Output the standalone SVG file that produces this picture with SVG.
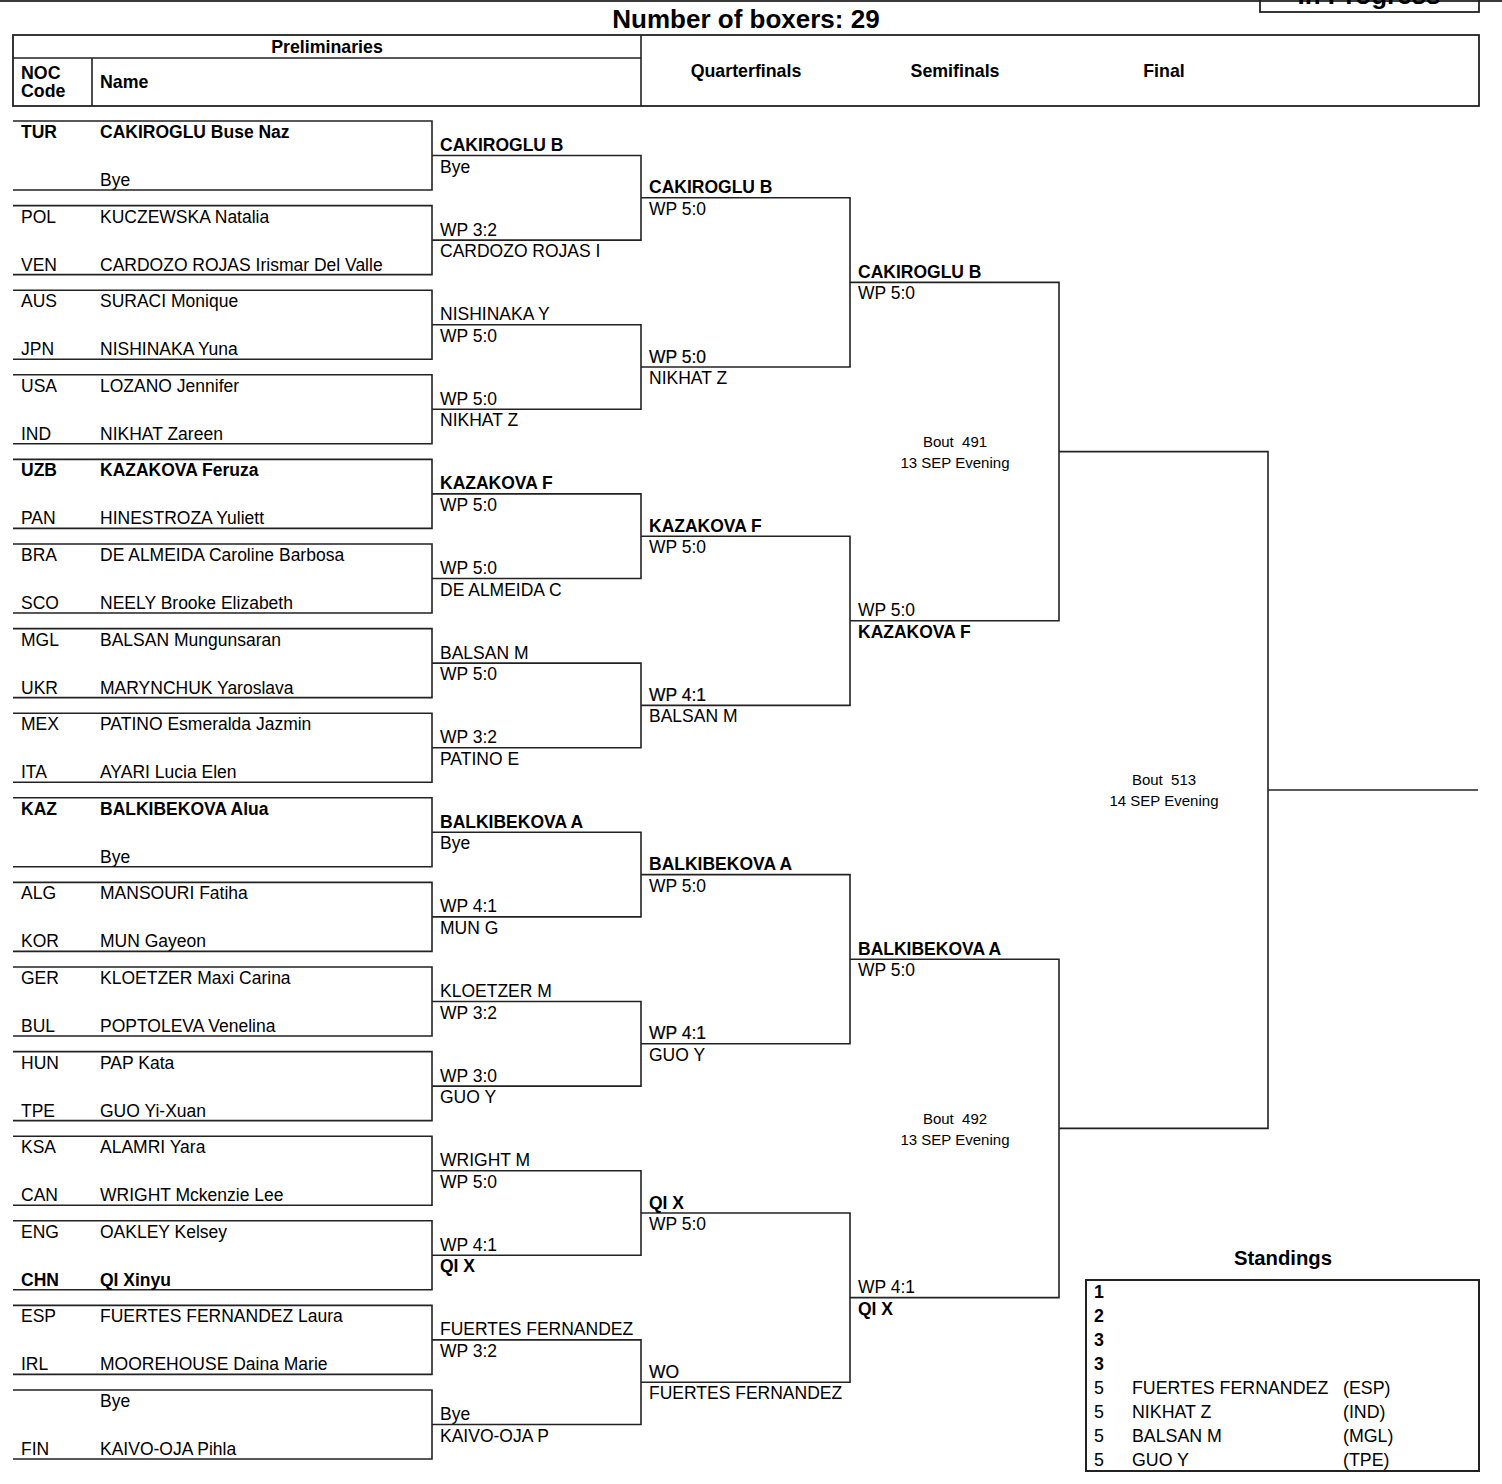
<svg xmlns="http://www.w3.org/2000/svg" width="1502" height="1484" viewBox="0 0 1502 1484">
<style>
.t{font-family:"Liberation Sans",Arial,sans-serif;font-size:17.5px;fill:#000}
.b{font-weight:bold}
.s{stroke:#000;stroke-width:0.2px}
.h{font-family:"Liberation Sans",Arial,sans-serif;font-size:17.8px;font-weight:bold;fill:#000}
.bout{font-family:"Liberation Sans",Arial,sans-serif;font-size:15px;fill:#000;text-anchor:middle;white-space:pre}
.st{font-family:"Liberation Sans",Arial,sans-serif;font-size:17.8px;fill:#000}
.ln{fill:none;stroke:#222;stroke-width:1.6}
.box{fill:none;stroke:#222;stroke-width:1.8}
.mid{text-anchor:middle}
</style>
<rect x="0" y="0" width="1502" height="1484" fill="#fff"/>
<rect x="0" y="0" width="1502" height="2" fill="#3a3a3a"/>
<g id="status">
<rect class="box" x="1260" y="-10" width="219" height="22"/>
<text class="h mid" x="1369" y="4" style="font-size:26px">In Progress</text>
</g>
<g id="title"><text class="h mid" x="746" y="28" style="font-size:26px">Number of boxers: 29</text></g>
<g id="header">
<rect class="box" x="13" y="35" width="1466" height="71"/>
<path class="ln" d="M641,35V106M13,58H641M92,58V106"/>
<text class="h mid" x="327" y="53">Preliminaries</text>
<text class="h" x="21" y="79">NOC</text>
<text class="h" x="21" y="97">Code</text>
<text class="h" x="100" y="88">Name</text>
<text class="h mid" x="746" y="77">Quarterfinals</text>
<text class="h mid" x="955" y="77">Semifinals</text>
<text class="h mid" x="1164" y="77">Final</text>
</g>
<g id="connectors" class="ln">
<path d="M13,121H432V190H13M13,205.6H432V274.6H13M13,290.2H432V359.2H13M13,374.8H432V443.8H13M13,459.4H432V528.4H13M13,544H432V613H13M13,628.6H432V697.6H13M13,713.2H432V782.2H13M13,797.8H432V866.8H13M13,882.4H432V951.4H13M13,967H432V1036H13M13,1051.6H432V1120.6H13M13,1136.2H432V1205.2H13M13,1220.8H432V1289.8H13M13,1305.4H432V1374.4H13M13,1390H432V1459H13"/>
<path d="M432,155.5H641V240.1H432M432,324.7H641V409.3H432M432,493.9H641V578.5H432M432,663.1H641V747.7H432M432,832.3H641V916.9H432M432,1001.5H641V1086.1H432M432,1170.7H641V1255.3H432M432,1339.9H641V1424.5H432"/>
<path d="M641,197.8H850V367H641M641,536.2H850V705.4H641M641,874.6H850V1043.8H641M641,1213H850V1382.2H641"/>
<path d="M850,282.4H1059V620.8H850M850,959.2H1059V1297.6H850"/>
<path d="M1059,451.6H1268V1128.4H1059"/>
<path d="M1268,790H1478"/>
</g>
<g id="prelims" class="t">
<g id="p0"><text class="b" x="21" y="138">TUR</text><text class="b" x="100" y="138">CAKIROGLU Buse Naz</text><text x="100" y="186">Bye</text></g>
<g id="p1"><text x="21" y="222.6">POL</text><text x="100" y="222.6">KUCZEWSKA Natalia</text><text x="21" y="270.6">VEN</text><text x="100" y="270.6">CARDOZO ROJAS Irismar Del Valle</text></g>
<g id="p2"><text x="21" y="307.2">AUS</text><text x="100" y="307.2">SURACI Monique</text><text x="21" y="355.2">JPN</text><text x="100" y="355.2">NISHINAKA Yuna</text></g>
<g id="p3"><text x="21" y="391.8">USA</text><text x="100" y="391.8">LOZANO Jennifer</text><text x="21" y="439.8">IND</text><text x="100" y="439.8">NIKHAT Zareen</text></g>
<g id="p4"><text class="b" x="21" y="476.4">UZB</text><text class="b" x="100" y="476.4">KAZAKOVA Feruza</text><text x="21" y="524.4">PAN</text><text x="100" y="524.4">HINESTROZA Yuliett</text></g>
<g id="p5"><text x="21" y="561">BRA</text><text x="100" y="561">DE ALMEIDA Caroline Barbosa</text><text x="21" y="609">SCO</text><text x="100" y="609">NEELY Brooke Elizabeth</text></g>
<g id="p6"><text x="21" y="645.6">MGL</text><text x="100" y="645.6">BALSAN Mungunsaran</text><text x="21" y="693.6">UKR</text><text x="100" y="693.6">MARYNCHUK Yaroslava</text></g>
<g id="p7"><text x="21" y="730.2">MEX</text><text x="100" y="730.2">PATINO Esmeralda Jazmin</text><text x="21" y="778.2">ITA</text><text x="100" y="778.2">AYARI Lucia Elen</text></g>
<g id="p8"><text class="b" x="21" y="814.8">KAZ</text><text class="b" x="100" y="814.8">BALKIBEKOVA Alua</text><text x="100" y="862.8">Bye</text></g>
<g id="p9"><text x="21" y="899.4">ALG</text><text x="100" y="899.4">MANSOURI Fatiha</text><text x="21" y="947.4">KOR</text><text x="100" y="947.4">MUN Gayeon</text></g>
<g id="p10"><text x="21" y="984">GER</text><text x="100" y="984">KLOETZER Maxi Carina</text><text x="21" y="1032">BUL</text><text x="100" y="1032">POPTOLEVA Venelina</text></g>
<g id="p11"><text x="21" y="1068.6">HUN</text><text x="100" y="1068.6">PAP Kata</text><text x="21" y="1116.6">TPE</text><text x="100" y="1116.6">GUO Yi-Xuan</text></g>
<g id="p12"><text x="21" y="1153.2">KSA</text><text x="100" y="1153.2">ALAMRI Yara</text><text x="21" y="1201.2">CAN</text><text x="100" y="1201.2">WRIGHT Mckenzie Lee</text></g>
<g id="p13"><text x="21" y="1237.8">ENG</text><text x="100" y="1237.8">OAKLEY Kelsey</text><text class="b" x="21" y="1285.8">CHN</text><text class="b" x="100" y="1285.8">QI Xinyu</text></g>
<g id="p14"><text x="21" y="1322.4">ESP</text><text x="100" y="1322.4">FUERTES FERNANDEZ Laura</text><text x="21" y="1370.4">IRL</text><text x="100" y="1370.4">MOOREHOUSE Daina Marie</text></g>
<g id="p15"><text x="100" y="1407">Bye</text><text x="21" y="1455">FIN</text><text x="100" y="1455">KAIVO-OJA Pihla</text></g>
</g>
<g id="round2" class="t">
<g id="r2-0"><text class="b" x="440" y="151">CAKIROGLU B</text><text x="440" y="172.5">Bye</text></g>
<g id="r2-1"><text x="440" y="235.6">WP 3:2</text><text x="440" y="257.1">CARDOZO ROJAS I</text></g>
<g id="r2-2"><text x="440" y="320.2">NISHINAKA Y</text><text x="440" y="341.7">WP 5:0</text></g>
<g id="r2-3"><text x="440" y="404.8">WP 5:0</text><text x="440" y="426.3">NIKHAT Z</text></g>
<g id="r2-4"><text class="b" x="440" y="489.4">KAZAKOVA F</text><text x="440" y="510.9">WP 5:0</text></g>
<g id="r2-5"><text x="440" y="574">WP 5:0</text><text x="440" y="595.5">DE ALMEIDA C</text></g>
<g id="r2-6"><text x="440" y="658.6">BALSAN M</text><text x="440" y="680.1">WP 5:0</text></g>
<g id="r2-7"><text x="440" y="743.2">WP 3:2</text><text x="440" y="764.7">PATINO E</text></g>
<g id="r2-8"><text class="b" x="440" y="827.8">BALKIBEKOVA A</text><text x="440" y="849.3">Bye</text></g>
<g id="r2-9"><text x="440" y="912.4">WP 4:1</text><text x="440" y="933.9">MUN G</text></g>
<g id="r2-10"><text x="440" y="997">KLOETZER M</text><text x="440" y="1018.5">WP 3:2</text></g>
<g id="r2-11"><text x="440" y="1081.6">WP 3:0</text><text x="440" y="1103.1">GUO Y</text></g>
<g id="r2-12"><text x="440" y="1166.2">WRIGHT M</text><text x="440" y="1187.7">WP 5:0</text></g>
<g id="r2-13"><text x="440" y="1250.8">WP 4:1</text><text class="b" x="440" y="1272.3">QI X</text></g>
<g id="r2-14"><text x="440" y="1335.4">FUERTES FERNANDEZ</text><text x="440" y="1356.9">WP 3:2</text></g>
<g id="r2-15"><text x="440" y="1420">Bye</text><text x="440" y="1441.5">KAIVO-OJA P</text></g>
</g>
<g id="quarterfinals" class="t">
<g id="qf0"><text class="b" x="649" y="193.3">CAKIROGLU B</text><text x="649" y="214.8">WP 5:0</text></g>
<g id="qf1"><text class="s" x="649" y="362.5">WP 5:0</text><text x="649" y="384">NIKHAT Z</text></g>
<g id="qf2"><text class="b" x="649" y="531.7">KAZAKOVA F</text><text x="649" y="553.2">WP 5:0</text></g>
<g id="qf3"><text class="s" x="649" y="700.9">WP 4:1</text><text x="649" y="722.4">BALSAN M</text></g>
<g id="qf4"><text class="b" x="649" y="870.1">BALKIBEKOVA A</text><text x="649" y="891.6">WP 5:0</text></g>
<g id="qf5"><text class="s" x="649" y="1039.3">WP 4:1</text><text x="649" y="1060.8">GUO Y</text></g>
<g id="qf6"><text class="b" x="649" y="1208.5">QI X</text><text x="649" y="1230">WP 5:0</text></g>
<g id="qf7"><text class="s" x="649" y="1377.7">WO</text><text x="649" y="1399.2">FUERTES FERNANDEZ</text></g>
</g>
<g id="semifinals" class="t">
<g id="sf0"><text class="b" x="858" y="277.9">CAKIROGLU B</text><text x="858" y="299.4">WP 5:0</text></g>
<g id="sf1"><text x="858" y="616.3">WP 5:0</text><text class="b" x="858" y="637.8">KAZAKOVA F</text></g>
<g id="sf2"><text class="b" x="858" y="954.7">BALKIBEKOVA A</text><text x="858" y="976.2">WP 5:0</text></g>
<g id="sf3"><text x="858" y="1293.1">WP 4:1</text><text class="b" x="858" y="1314.6">QI X</text></g>
</g>
<g id="bouts">
<g id="bout491"><text class="bout" x="955" y="447">Bout  491</text><text class="bout" x="955" y="468">13 SEP Evening</text></g>
<g id="bout492"><text class="bout" x="955" y="1124">Bout  492</text><text class="bout" x="955" y="1145">13 SEP Evening</text></g>
<g id="bout513"><text class="bout" x="1164" y="785">Bout  513</text><text class="bout" x="1164" y="806">14 SEP Evening</text></g>
</g>
<g id="standings">
<text class="h mid" x="1283" y="1265" style="font-size:20.3px">Standings</text>
<rect class="box" x="1086" y="1280" width="393" height="191" style="stroke-width:2"/>
<g class="st">
<text class="b" x="1094" y="1298">1</text>
<text class="b" x="1094" y="1322">2</text>
<text class="b" x="1094" y="1346">3</text>
<text class="b" x="1094" y="1370">3</text>
<text x="1094" y="1394">5</text><text x="1132" y="1394">FUERTES FERNANDEZ</text><text x="1343" y="1394">(ESP)</text>
<text x="1094" y="1418">5</text><text x="1132" y="1418">NIKHAT Z</text><text x="1343" y="1418">(IND)</text>
<text x="1094" y="1442">5</text><text x="1132" y="1442">BALSAN M</text><text x="1343" y="1442">(MGL)</text>
<text x="1094" y="1466">5</text><text x="1132" y="1466">GUO Y</text><text x="1343" y="1466">(TPE)</text>
</g>
</g>
</svg>
